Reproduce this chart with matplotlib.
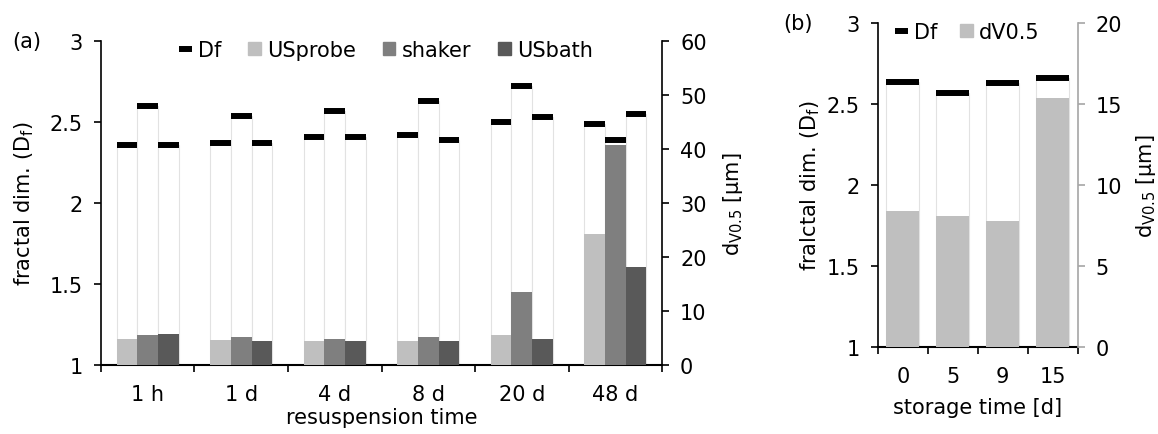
import numpy as np
import matplotlib.pyplot as plt
from matplotlib.lines import Line2D
from matplotlib.patches import Patch
from matplotlib.ticker import FormatStrFormatter

plt.rcParams['font.family'] = ['DejaVu Sans']
plt.rcParams['mathtext.fontset'] = 'dejavusans'
plt.rcParams['font.size'] = 15

# (a) resuspension time
tempos = ['1 h', '1 d', '4 d', '8 d', '20 d', '48 d']
metodos = ['USprobe', 'shaker', 'USbath']
cores = ['#bfbfbf', '#7f7f7f', '#595959']
df_usprobe = [2.36, 2.37, 2.41, 2.42, 2.50, 2.49]
df_shaker = [2.60, 2.54, 2.57, 2.63, 2.72, 2.39]
df_usbath = [2.36, 2.37, 2.41, 2.39, 2.53, 2.55]
dv_usprobe = [4.8, 4.6, 4.4, 4.4, 5.6, 24.3]
dv_shaker = [5.6, 5.1, 4.9, 5.1, 13.6, 40.7]
dv_usbath = [5.7, 4.5, 4.4, 4.4, 4.9, 18.2]

# (b) storage time
dias = ['0', '5', '9', '15']
df_armaz = [2.64, 2.57, 2.63, 2.66]
dv_armaz = [8.4, 8.1, 7.8, 15.4]

CONTORNO = '#e2e2e2'


def estilo_eixos(ax, ax2, cor_direita='black'):
    for s in ['top', 'right']:
        ax.spines[s].set_visible(False)
    for s in ['top', 'left', 'bottom']:
        ax2.spines[s].set_visible(False)
    ax.spines['left'].set_linewidth(1.2)
    ax.spines['bottom'].set_linewidth(1.5)
    ax2.spines['right'].set_linewidth(1.2)
    ax2.spines['right'].set_color(cor_direita)
    ax.tick_params(axis='y', length=5, width=1.2, pad=8)
    ax2.tick_params(axis='y', length=5, width=1.2, pad=8, color=cor_direita)
    ax.tick_params(axis='x', which='major', length=0, pad=14)
    ax.tick_params(axis='x', which='minor', length=5, width=1.2)
    ax.yaxis.set_major_formatter(FormatStrFormatter('%g'))


fig = plt.figure(figsize=(11.58, 4.35), dpi=100)

# ---- painel (a)
ax = fig.add_axes([0.0872, 0.1586, 0.4845, 0.7448])
ax2 = ax.twinx()
x = np.arange(len(tempos))
w = 1 / 4.5
dfs = [df_usprobe, df_shaker, df_usbath]
dvs = [dv_usprobe, dv_shaker, dv_usbath]
for i in range(3):
    pos = x + (i - 1) * w
    ax.bar(pos, np.array(dfs[i]) - 1, bottom=1, width=w, color='white',
           edgecolor=CONTORNO, lw=0.8)
    ax.hlines(dfs[i], pos - w / 2, pos + w / 2, color='black', lw=4.3, capstyle='butt', zorder=3)
    ax2.bar(pos, dvs[i], width=w, color=cores[i])

ax.set_xlim(-0.5, len(tempos) - 0.5)
ax.set_ylim(1, 3)
ax.set_yticks([1, 1.5, 2, 2.5, 3])
ax2.set_ylim(0, 60)
ax2.set_yticks(range(0, 61, 10))
ax.set_xticks(x)
ax.set_xticklabels(tempos)
ax.set_xticks(np.arange(-0.5, len(tempos)), minor=True)
estilo_eixos(ax, ax2)
ax.set_ylabel(r'fractal dim. (D$_\mathregular{f}$)')
ax.yaxis.set_label_coords(-0.116, 0.5)
ax2.set_ylabel(r'd$_\mathregular{V0.5}$ [µm]')
ax2.yaxis.set_label_coords(1.105, 0.5)
ax.set_xlabel('resuspension time', labelpad=2)

handles = [Line2D([], [], color='black', lw=4.3, solid_capstyle='butt')]
handles += [Patch(color=c) for c in cores]
ax2.legend(handles, ['Df'] + metodos, ncol=4, frameon=False, loc='center',
           bbox_to_anchor=(0.508, 0.972), handlelength=0.6, handleheight=0.6,
           handletextpad=0.3, columnspacing=1.3)
fig.text(0.011, 0.903, '(a)', va='center', ha='left')

# ---- painel (b)
bx = fig.add_axes([0.758, 0.2007, 0.1727, 0.7434])
bx2 = bx.twinx()
xb = np.arange(len(dias))
wb = 1 / 1.5
bx.bar(xb, np.array(df_armaz) - 1, bottom=1, width=wb, color='white',
       edgecolor=CONTORNO, lw=0.8)
bx.hlines(df_armaz, xb - wb / 2, xb + wb / 2, color='black', lw=4.3, capstyle='butt', zorder=3)
bx2.bar(xb, dv_armaz, width=wb, color='#bfbfbf')

bx.set_xlim(-0.5, len(dias) - 0.5)
bx.set_ylim(1, 3)
bx.set_yticks([1, 1.5, 2, 2.5, 3])
bx2.set_ylim(0, 20)
bx2.set_yticks(range(0, 21, 5))
bx.set_xticks(xb)
bx.set_xticklabels(dias)
bx.set_xticks(np.arange(-0.5, len(dias)), minor=True)
estilo_eixos(bx, bx2, cor_direita='#a6a6a6')
bx.set_ylabel(r'fralctal dim. (D$_\mathregular{f}$)')
bx.yaxis.set_label_coords(-0.28, 0.5)
bx2.set_ylabel(r'd$_\mathregular{V0.5}$ [µm]')
bx2.yaxis.set_label_coords(1.28, 0.5)
bx.set_xlabel('storage time [d]', labelpad=8)

handles_b = [Line2D([], [], color='black', lw=4.3, solid_capstyle='butt'), Patch(color='#bfbfbf')]
bx2.legend(handles_b, ['Df', 'dV0.5'], ncol=2, frameon=False, loc='center',
           bbox_to_anchor=(0.449, 0.973), handlelength=0.6, handleheight=0.6,
           handletextpad=0.3, columnspacing=1.1)
fig.text(0.676, 0.945, '(b)', va='center', ha='left')

fig.savefig('out.png', dpi=100)
